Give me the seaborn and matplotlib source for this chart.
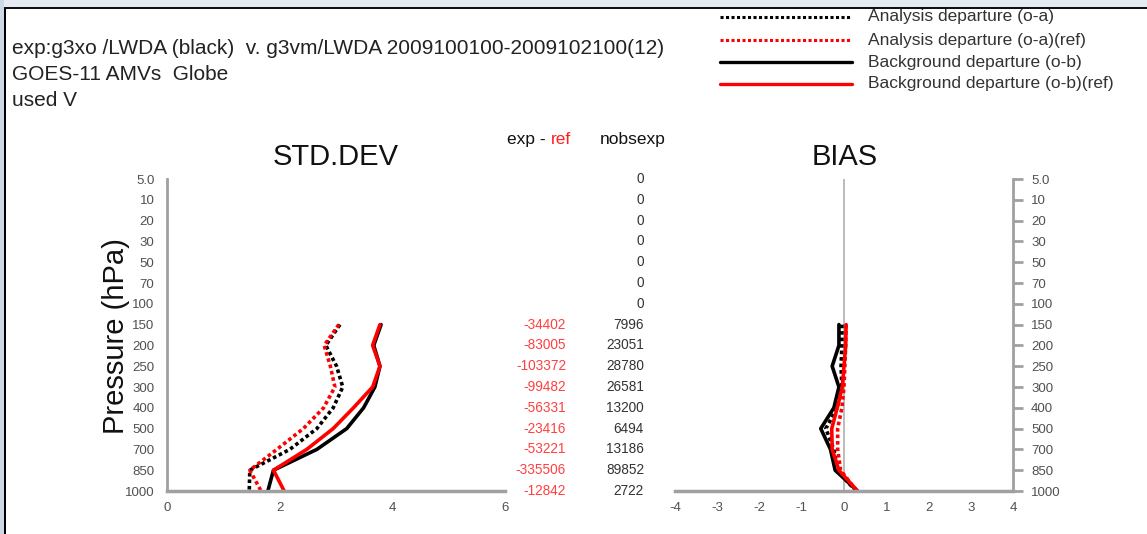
import matplotlib
matplotlib.use("Agg")
import matplotlib.pyplot as plt
from matplotlib.patches import Rectangle
import pandas as pd
import seaborn as sns

sns.set_style("white")
plt.rcParams["font.family"] = ["Liberation Sans", "DejaVu Sans"]
plt.rcParams["axes.unicode_minus"] = False

# Pressure levels (hPa), top to bottom
levels = ["5.0", "10", "20", "30", "50", "70", "100", "150", "200",
          "250", "300", "400", "500", "700", "850", "1000"]
data_levels = ["150", "200", "250", "300", "400", "500", "700", "850", "1000"]

# STD.DEV profiles
std_oa_exp = [3.07, 2.82, 3.01, 3.12, 2.95, 2.66, 2.18, 1.47, 1.46]
std_oa_ref = [3.05, 2.79, 2.90, 2.98, 2.78, 2.42, 1.95, 1.47, 1.67]
std_ob_exp = [3.80, 3.67, 3.78, 3.69, 3.49, 3.19, 2.66, 1.89, 1.79]
std_ob_ref = [3.78, 3.65, 3.78, 3.65, 3.31, 2.95, 2.48, 1.89, 2.08]

# BIAS profiles
bias_oa_exp = [-0.05, -0.05, -0.07, -0.05, -0.16, -0.43, -0.24, -0.16, 0.28]
bias_oa_ref = [0.05, 0.04, 0.02, 0.00, -0.05, -0.15, -0.15, -0.08, 0.30]
bias_ob_exp = [-0.12, -0.12, -0.28, -0.12, -0.24, -0.55, -0.32, -0.21, 0.32]
bias_ob_ref = [0.05, 0.04, 0.00, -0.04, -0.16, -0.29, -0.28, -0.12, 0.32]

# Observation counts
nobs_exp = [0, 0, 0, 0, 0, 0, 0, 7996, 23051, 28780, 26581, 13200, 6494, 13186, 89852, 2722]
exp_minus_ref = [-34402, -83005, -103372, -99482, -56331, -23416, -53221, -335506, -12842]

series_names = ["Analysis departure (o-a)", "Analysis departure (o-a)(ref)",
                "Background departure (o-b)", "Background departure (o-b)(ref)"]
series_colors = ["#000000", "#ff0000", "#000000", "#ff0000"]
series_dash = [(0, (1, 0.8)), (0, (1, 0.8)), "-", "-"]

lev_pos = {lev: i for i, lev in enumerate(levels)}
ypos = [lev_pos[l] for l in data_levels]

W, H = 1147, 534
fig = plt.figure(figsize=(W / 100, H / 100), dpi=100)
fig.patch.set_facecolor("white")

# window frame
fig.patches.append(Rectangle((0, 1 - 7 / H), 1, 7 / H, transform=fig.transFigure,
                             facecolor="#e4ebf2", edgecolor="none", zorder=-5))
fig.patches.append(Rectangle((0, 0), 4 / W, 1, transform=fig.transFigure,
                             facecolor="#cdd9e5", edgecolor="none", zorder=-5))
fig.patches.append(Rectangle((4 / W, 0), 2 / W, 1 - 7 / H, transform=fig.transFigure,
                             facecolor="#000000", edgecolor="none", zorder=-4))
fig.patches.append(Rectangle((4 / W, 1 - 9 / H), 1, 2 / H, transform=fig.transFigure,
                             facecolor="#111111", edgecolor="none", zorder=-4))


def fx(px):
    return px / W


def fy(py):
    return 1 - py / H


y_top, y_bot = 179, 491
ax_std = fig.add_axes([fx(167), fy(y_bot), fx(505 - 167), (y_bot - y_top) / H])
ax_bias = fig.add_axes([fx(675), fy(y_bot), fx(1013 - 675), (y_bot - y_top) / H])

std_series = [std_oa_exp, std_oa_ref, std_ob_exp, std_ob_ref]
bias_series = [bias_oa_exp, bias_oa_ref, bias_ob_exp, bias_ob_ref]

axis_gray = "#a0a0a0"
tick_gray = "#505050"

for ax, series in ((ax_std, std_series), (ax_bias, bias_series)):
    for vals, name, col, ls in zip(series, series_names, series_colors, series_dash):
        df = pd.DataFrame({"value": vals, "pos": ypos})
        sns.lineplot(data=df, x="value", y="pos", sort=False, estimator=None,
                     orient="y", ax=ax, color=col, linewidth=2.6, linestyle=ls,
                     label=name, legend=False)
    ax.set_ylim(len(levels) - 1, 0)
    ax.set_yticks(range(len(levels)))
    ax.set_yticklabels(levels)
    ax.set_xlabel("")
    ax.set_ylabel("")
    ax.set_facecolor("none")
    for s in ax.spines.values():
        s.set_visible(False)
    ax.spines["bottom"].set_visible(True)
    ax.spines["bottom"].set_color(axis_gray)
    ax.spines["bottom"].set_linewidth(2.5)
    ax.tick_params(axis="x", direction="in", length=6, width=1.2, color=axis_gray,
                   labelsize=9.5, labelcolor=tick_gray, pad=8)
    ax.tick_params(axis="y", direction="out", length=7, width=2, color=axis_gray,
                   labelsize=9.5, labelcolor=tick_gray, pad=2)

ax_std.set_xlim(0, 6)
ax_std.set_xticks([0, 2, 4, 6])
ax_std.spines["left"].set_visible(True)
ax_std.spines["left"].set_color(axis_gray)
ax_std.spines["left"].set_linewidth(2)

ax_bias.set_xlim(-4, 4)
ax_bias.set_xticks(range(-4, 5))
ax_bias.spines["right"].set_visible(True)
ax_bias.spines["right"].set_color(axis_gray)
ax_bias.spines["right"].set_linewidth(2)
ax_bias.yaxis.tick_right()
ax_bias.tick_params(axis="y", labelright=True, labelleft=False, pad=6)
ax_bias.axvline(0, color="#b0b0b0", linewidth=1.2, zorder=0)

# titles and axis label
fig.text(fx(336), fy(157), "STD.DEV", fontsize=21, ha="center", va="center", color="#111111")
fig.text(fx(845), fy(157), "BIAS", fontsize=21, ha="center", va="center", color="#111111")
fig.text(fx(116), fy(336), "Pressure (hPa)", fontsize=21, rotation=90,
         ha="center", va="center", color="#111111")

# header
header = ["exp:g3xo /LWDA (black)  v. g3vm/LWDA 2009100100-2009102100(12)",
          "GOES-11 AMVs  Globe",
          "used V"]
for i, line in enumerate(header):
    fig.text(fx(12), fy(48 + 26 * i), line, fontsize=15, ha="left", va="center",
             color="#222222")

# legend
leg_y = [17, 40, 62, 84]
for yy, name, col, ls in zip(leg_y, series_names, series_colors, series_dash):
    fig.add_artist(plt.Line2D([fx(720), fx(852)], [fy(yy), fy(yy)],
                              transform=fig.transFigure, color=col,
                              linewidth=2.4 if ls == "-" else 2.2, linestyle=ls))
    fig.text(fx(868), fy(yy), name, fontsize=12.5, ha="left", va="center", color="#333333")

# count columns
t1 = fig.text(fx(507), fy(139), "exp - ", fontsize=12.5, ha="left", va="center", color="#111111")
fig.canvas.draw()
bb = t1.get_window_extent()
fig.text(bb.x1 / W, fy(139), "ref", fontsize=12.5, ha="left", va="center", color="#ff2020")
fig.text(fx(633), fy(139), "nobsexp", fontsize=12.5, ha="center", va="center", color="#111111")

row_px = [y_top + i * (y_bot - y_top) / (len(levels) - 1) for i in range(len(levels))]
for i, n in enumerate(nobs_exp):
    fig.text(fx(644), fy(row_px[i]), str(n), fontsize=9.8, ha="right", va="center",
             color="#333333")
for lev, d in zip(data_levels, exp_minus_ref):
    fig.text(fx(566), fy(row_px[lev_pos[lev]]), str(d), fontsize=9.8, ha="right",
             va="center", color="#ff4040")

fig.savefig("out.png", dpi=100, facecolor="white")
